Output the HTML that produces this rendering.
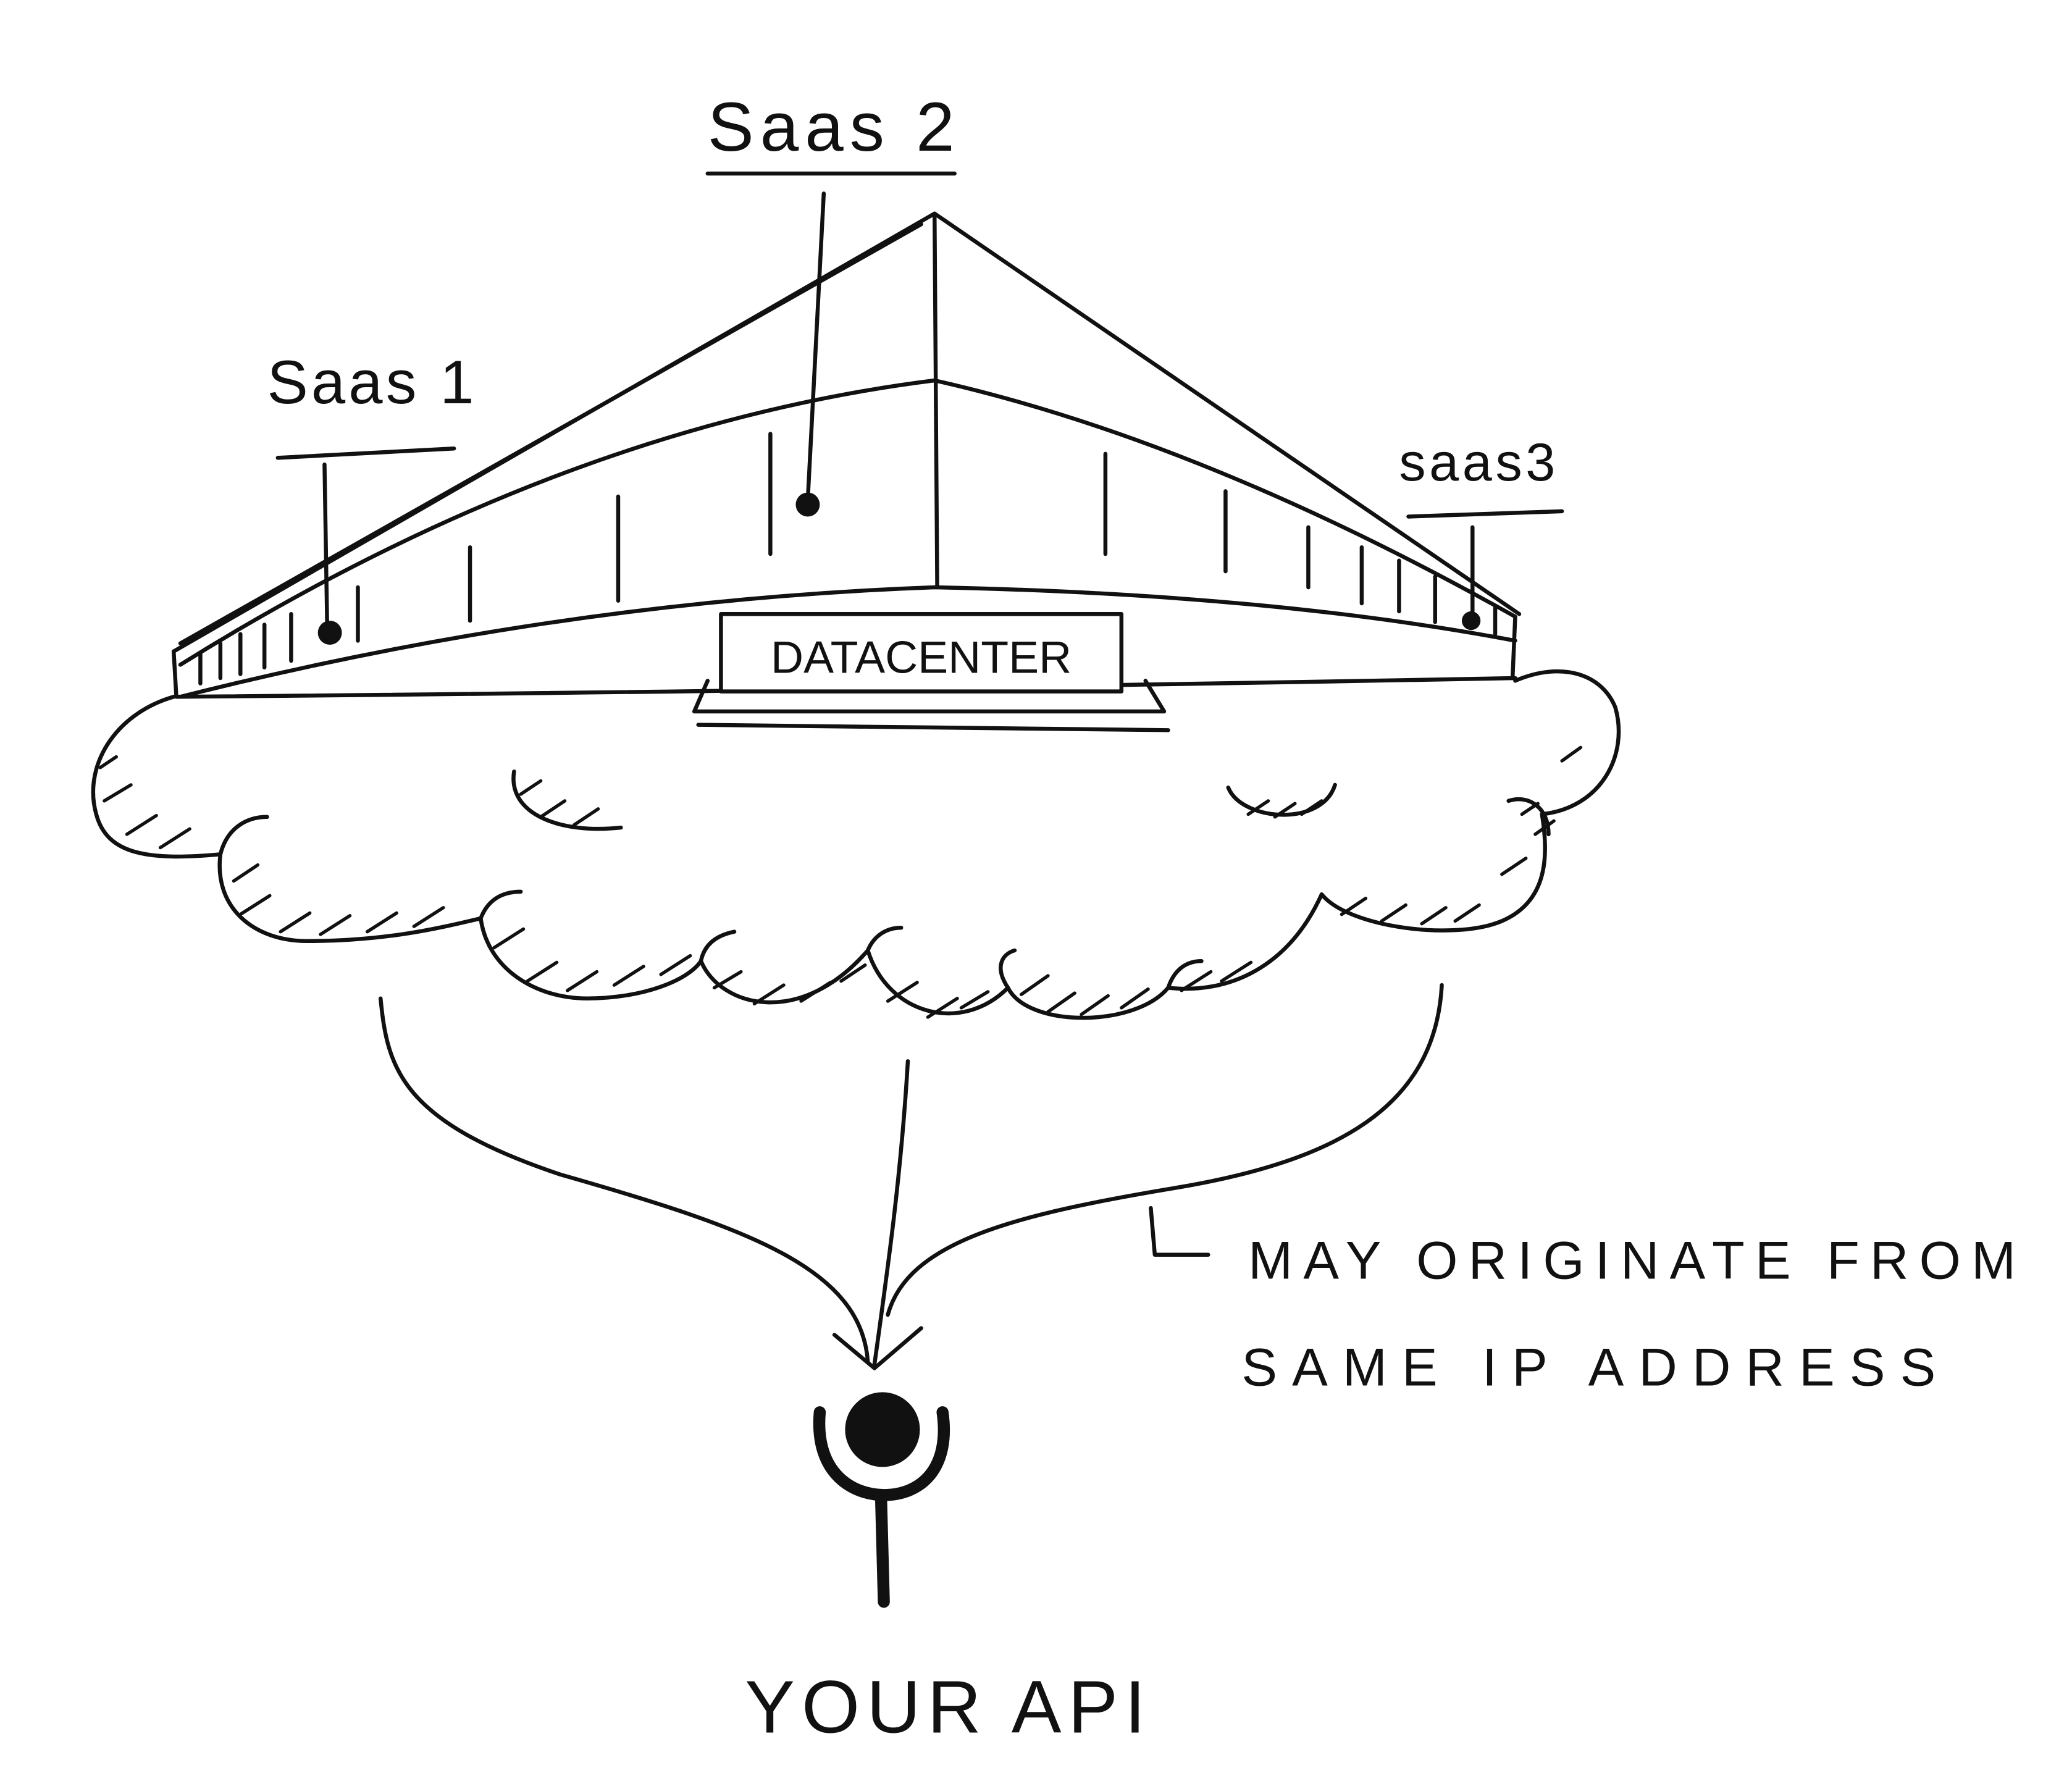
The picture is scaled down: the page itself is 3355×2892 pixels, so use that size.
<!DOCTYPE html>
<html><head><meta charset="utf-8"><style>
html,body{margin:0;padding:0;background:#fff;}
svg{display:block;}
text{font-family:"Liberation Sans",sans-serif;fill:#111;}
</style></head><body>
<svg width="3355" height="2892" viewBox="0 0 1552 1338" xmlns="http://www.w3.org/2000/svg">
<rect width="1552" height="1338" fill="#fff"/>
<g fill="none" stroke="#111" stroke-width="3" stroke-linecap="round" stroke-linejoin="round">
<line x1="530" y1="130" x2="715" y2="130"/>
<line x1="208" y1="343" x2="340" y2="336"/>
<line x1="1055" y1="387" x2="1170" y2="383"/>
<line x1="617" y1="145" x2="605" y2="375"/>
<line x1="243" y1="348" x2="245" y2="470"/>
<line x1="1103" y1="395" x2="1103" y2="462"/>
<path d="M130,488 L700,160 L1138,460"/>
<path d="M135,482 L690,168"/>
<line x1="700" y1="160" x2="702" y2="440"/>
<path d="M135,498 Q420,320 700,285 Q900,330 1135,462"/>
<path d="M135,522 Q420,450 700,440 Q950,445 1135,480"/>
<line x1="130" y1="488" x2="132" y2="522"/>
<line x1="1135" y1="462" x2="1133" y2="508"/>
<g>
<line x1="150" y1="490" x2="150" y2="512"/><line x1="165" y1="482" x2="165" y2="508"/>
<line x1="180" y1="475" x2="180" y2="505"/><line x1="198" y1="468" x2="198" y2="500"/>
<line x1="218" y1="460" x2="218" y2="495"/><line x1="268" y1="440" x2="268" y2="480"/>
<line x1="352" y1="410" x2="352" y2="465"/><line x1="463" y1="372" x2="463" y2="450"/>
<line x1="577" y1="325" x2="577" y2="415"/><line x1="828" y1="340" x2="828" y2="415"/>
<line x1="918" y1="368" x2="918" y2="428"/><line x1="980" y1="395" x2="980" y2="440"/>
<line x1="1020" y1="410" x2="1020" y2="452"/><line x1="1048" y1="420" x2="1048" y2="458"/>
<line x1="1075" y1="432" x2="1075" y2="466"/><line x1="1120" y1="455" x2="1120" y2="475"/>
</g>
<path d="M133,522 Q600,518 1135,508"/>
<rect x="540" y="460" width="300" height="58" fill="#fff"/>
<path d="M530,510 L520,533 L872,533 L858,510"/>
<line x1="523" y1="543" x2="875" y2="547"/>
<path d="M130,522 C85,535 62,575 72,610 C80,640 110,645 165,640 C160,680 190,705 230,705 C290,705 330,695 360,688 C365,725 400,748 440,748 C480,748 515,735 525,720 C540,755 600,770 650,712 C665,760 720,775 755,740 C770,770 850,770 875,740 C920,745 965,725 990,670 C1010,695 1090,705 1125,690 C1160,675 1160,640 1155,610 C1200,605 1220,565 1210,530 C1200,505 1170,495 1135,510"/>
<path d="M385,578 C380,610 420,625 465,620"/>
<path d="M920,590 C930,615 990,620 1000,588"/>
<path d="M1130,600 C1145,595 1160,605 1160,625"/>
<path d="M165,640 C170,620 185,612 200,612"/>
<path d="M360,688 C365,675 375,668 390,668"/>
<path d="M525,720 C528,705 540,700 550,698"/>
<path d="M650,712 C655,700 665,695 675,695"/>
<path d="M755,740 C745,725 750,715 760,712"/>
<path d="M875,740 C880,725 890,720 900,720"/>
<g stroke-width="2.5">
<path d="M75,575 l12,-8 M78,600 l20,-12 M95,625 l22,-14 M120,635 l22,-14"/>
<path d="M175,660 l18,-12 M180,685 l22,-14 M210,698 l22,-14 M240,700 l22,-14 M275,698 l22,-14 M310,694 l22,-14"/>
<path d="M370,710 l22,-14 M395,735 l22,-14 M425,742 l22,-14 M460,738 l22,-14 M495,730 l22,-14"/>
<path d="M535,740 l20,-12 M565,752 l22,-14 M600,750 l22,-14 M630,735 l18,-12"/>
<path d="M665,750 l22,-14 M695,762 l22,-14 M720,755 l20,-12"/>
<path d="M765,745 l20,-14 M785,758 l20,-14 M810,760 l20,-14 M840,755 l20,-14"/>
<path d="M885,742 l22,-14 M915,735 l22,-14"/>
<path d="M1005,685 l18,-12 M1035,690 l18,-12 M1065,692 l18,-12 M1090,690 l18,-12"/>
<path d="M1125,655 l18,-12 M1150,625 l14,-10 M1170,570 l14,-10"/>
<path d="M390,595 l15,-10 M405,612 l18,-12 M430,618 l18,-12"/>
<path d="M935,610 l15,-10 M955,612 l15,-10 M975,610 l15,-10"/>
<path d="M1140,610 l12,-8"/>
</g>
<path d="M285,748 C290,800 300,840 420,880 C560,920 645,950 650,1020"/>
<path d="M680,795 C675,880 665,950 655,1022"/>
<path d="M1080,738 C1075,830 1000,870 880,890 C760,910 680,930 665,985"/>
<path d="M625,1000 L655,1025 L690,995"/>
<path d="M862,905 L865,940 L905,940"/>
<path d="M614,1058 C610,1105 640,1120 662,1120 C690,1120 712,1100 706,1058" stroke-width="9"/>
<line x1="660" y1="1125" x2="662" y2="1200" stroke-width="9"/>
</g>
<g fill="#111">
<circle cx="247" cy="474" r="9"/>
<circle cx="605" cy="378" r="9"/>
<circle cx="1102" cy="465" r="7"/>
<circle cx="661" cy="1071" r="28"/>
</g>
<text x="530" y="113" font-size="52" textLength="185">Saas 2</text>
<text x="200" y="302" font-size="46" textLength="155">Saas 1</text>
<text x="1048" y="360" font-size="40" textLength="117">saas3</text>
<text x="690" y="504" font-size="34" text-anchor="middle">DATACENTER</text>
<text x="935" y="958" font-size="40" textLength="575">MAY ORIGINATE FROM</text>
<text x="930" y="1038" font-size="40" textLength="520">SAME IP ADDRESS</text>
<text x="558" y="1298" font-size="56" textLength="300">YOUR API</text>
</svg>
</body></html>
